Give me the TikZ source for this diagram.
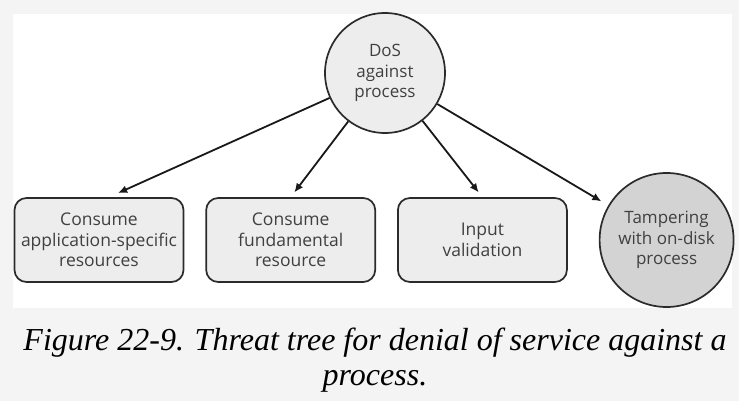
\documentclass[tikz,border=0pt]{standalone}
\usepackage{fontspec}
\setmainfont{Open Sans}
\newfontfamily\capfont{Liberation Serif}
\usetikzlibrary{arrows.meta, positioning}
\definecolor{pagegray}{HTML}{F4F4F4}
\definecolor{nodefill}{HTML}{EDEDED}
\definecolor{leaffill}{HTML}{D3D3D3}
\definecolor{edge}{HTML}{2B2B2B}
\tikzset{
  goal/.style={
    circle, minimum size=#1, inner sep=0pt, align=center,
    draw=edge, line width=1.7pt, fill=nodefill,
    font=\fontsize{17}{20.5}\selectfont, text=black!75
  },
  threat/.style={
    rectangle, rounded corners=12pt, minimum width=169pt, minimum height=84pt,
    align=center, draw=edge, line width=1.7pt, fill=nodefill,
    font=\fontsize{17.5}{20.5}\selectfont, text=black!75
  },
  link/.style={
    -{Latex[length=9pt,width=8pt]}, line width=1.8pt, draw=black!90
  }
}
\begin{document}
\begin{tikzpicture}[x=1pt, y=-1pt]

  % page and figure panel
  \fill[pagegray] (0,0) rectangle (739,401);
  \fill[white] (13,14) rectangle (732,308);
  \useasboundingbox (0,0) rectangle (739,401);

  \node[goal=120pt] (dos) at (385,73) {DoS\\against\\process};

  \node[threat] (app) at (99,240) {Consume\\application-specific\\resources};
  \node[threat, right=21pt of app] (fund) {Consume\\fundamental\\resource};
  \node[threat, right=21pt of fund] (input) {Input\\validation};
  \node[goal=134pt, fill=leaffill, right=31pt of input] (tamper)
    {Tampering\\with on-disk\\process};

  % edges of the tree
  \draw[link, shorten >=10pt] (dos) -- ([xshift=10pt]app.north);
  \draw[link, shorten >=6pt] (dos) -- (fund.north);
  \draw[link, shorten >=6pt] (dos) -- (input.north);
  \draw[link, shorten >=8pt] (dos) -- (tamper);

  % caption
  \node[font=\capfont\itshape\fontsize{32}{35}\selectfont, align=center, anchor=base]
    (caption) at (375,385) {Figure 22-9. Threat tree for denial of service against a\\process.};

\end{tikzpicture}
\end{document}
